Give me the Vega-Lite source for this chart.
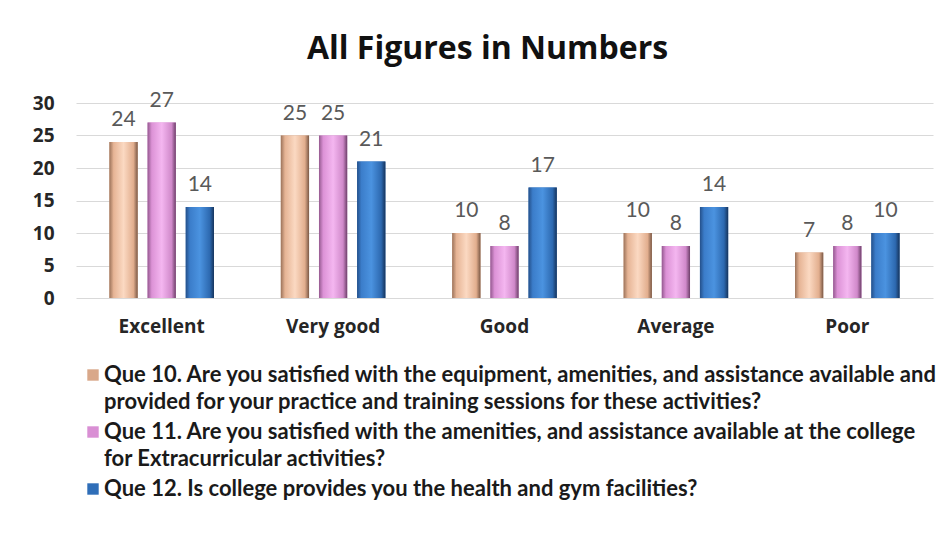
{
  "$schema": "https://vega.github.io/schema/vega-lite/v6.json",
  "width": 857,
  "height": 195,
  "autosize": "none",
  "padding": {"left": 76, "top": 103, "right": 18, "bottom": 250},
  "background": "white",
  "title": {
    "text": "All Figures in Numbers",
    "fontSize": 32,
    "font": "Open Sans",
    "fontWeight": "bold",
    "color": "#111111",
    "dx": -17,
    "offset": 24
  },
  "data": {
    "values": [
      {"rating": "Excellent", "series": "Que 10", "value": 24},
      {"rating": "Excellent", "series": "Que 11", "value": 27},
      {"rating": "Excellent", "series": "Que 12", "value": 14},
      {"rating": "Very good", "series": "Que 10", "value": 25},
      {"rating": "Very good", "series": "Que 11", "value": 25},
      {"rating": "Very good", "series": "Que 12", "value": 21},
      {"rating": "Good", "series": "Que 10", "value": 10},
      {"rating": "Good", "series": "Que 11", "value": 8},
      {"rating": "Good", "series": "Que 12", "value": 17},
      {"rating": "Average", "series": "Que 10", "value": 10},
      {"rating": "Average", "series": "Que 11", "value": 8},
      {"rating": "Average", "series": "Que 12", "value": 14},
      {"rating": "Poor", "series": "Que 10", "value": 7},
      {"rating": "Poor", "series": "Que 11", "value": 8},
      {"rating": "Poor", "series": "Que 12", "value": 10}
    ]
  },
  "encoding": {
    "x": {
      "field": "rating",
      "type": "nominal",
      "sort": ["Excellent", "Very good", "Good", "Average", "Poor"],
      "scale": {"paddingInner": 0.39, "paddingOuter": 0.195},
      "axis": {
        "title": null,
        "labelAngle": 0,
        "labelFont": "Open Sans",
        "labelFontWeight": "bold",
        "labelFontSize": 19,
        "labelColor": "#262626",
        "labelPadding": 19,
        "domain": false,
        "ticks": false
      }
    },
    "xOffset": {
      "field": "series",
      "type": "nominal",
      "scale": {"domain": ["Que 10", "Que 11", "Que 12"], "paddingInner": 0.26}
    },
    "y": {
      "field": "value",
      "type": "quantitative",
      "scale": {"domain": [0, 30]},
      "axis": {
        "title": null,
        "values": [0, 5, 10, 15, 20, 25, 30],
        "labelFont": "Open Sans",
        "labelFontWeight": "bold",
        "labelFontSize": 19,
        "labelColor": "#262626",
        "labelPadding": 22,
        "domain": false,
        "ticks": false,
        "gridColor": "#D9D9D9",
        "gridWidth": 1.2
      }
    }
  },
  "layer": [
    {
      "mark": {"type": "bar"},
      "encoding": {
        "color": {
          "field": "series",
          "type": "nominal",
          "scale": {"domain": ["Que 10", "Que 11", "Que 12"], "range": ["#D9A88A", "#D98FD4", "#2F6EB8"]},
          "legend": {
            "orient": "none",
            "legendX": 6,
            "legendY": 261,
            "direction": "vertical",
            "title": null,
            "symbolType": "square",
            "symbolSize": 130,
            "symbolStrokeWidth": 0,
            "labelFont": "Lato",
            "labelFontSize": 22,
            "labelFontWeight": "bold",
            "labelColor": "#1a1a1a",
            "labelLimit": 2000,
            "labelOffset": 0,
            "rowPadding": 8,
            "labelExpr": "datum.value == 'Que 10' ? ['Que 10. Are you satisfied with the equipment, amenities, and assistance available and', 'provided for your practice and training sessions for these activities?'] : datum.value == 'Que 11' ? ['Que 11. Are you satisfied with the amenities, and assistance available at the college', 'for Extracurricular activities?'] : 'Que 12. Is college provides you the health and gym facilities?'"
          }
        }
      }
    },
    {
      "transform": [{"filter": "datum.series == 'Que 10'"}],
      "mark": {
        "type": "bar",
        "color": {
          "gradient": "linear", "x1": 0, "x2": 1, "y1": 0, "y2": 0,
          "stops": [
            {"offset": 0, "color": "#9c735a"},
            {"offset": 0.15, "color": "#e6b495"},
            {"offset": 0.5, "color": "#fbd9c2"},
            {"offset": 0.85, "color": "#e2ae8e"},
            {"offset": 1, "color": "#7a5845"}
          ]
        }
      }
    },
    {
      "transform": [{"filter": "datum.series == 'Que 11'"}],
      "mark": {
        "type": "bar",
        "color": {
          "gradient": "linear", "x1": 0, "x2": 1, "y1": 0, "y2": 0,
          "stops": [
            {"offset": 0, "color": "#94598f"},
            {"offset": 0.15, "color": "#dc92d6"},
            {"offset": 0.5, "color": "#f4b6f0"},
            {"offset": 0.85, "color": "#d089ca"},
            {"offset": 1, "color": "#6d3f69"}
          ]
        }
      }
    },
    {
      "transform": [{"filter": "datum.series == 'Que 12'"}],
      "mark": {
        "type": "bar",
        "color": {
          "gradient": "linear", "x1": 0, "x2": 1, "y1": 0, "y2": 0,
          "stops": [
            {"offset": 0, "color": "#24508a"},
            {"offset": 0.15, "color": "#3b7dca"},
            {"offset": 0.5, "color": "#4b93e0"},
            {"offset": 0.85, "color": "#2d69b0"},
            {"offset": 1, "color": "#16345c"}
          ]
        }
      }
    },
    {
      "mark": {
        "type": "text",
        "baseline": "bottom",
        "dy": -12,
        "font": "Lato",
        "fontSize": 21,
        "color": "#595959"
      },
      "encoding": {"text": {"field": "value", "type": "quantitative"}}
    }
  ],
  "config": {
    "view": {"stroke": null},
    "style": {"guide-label": {"lineHeight": 27}}
  }
}
